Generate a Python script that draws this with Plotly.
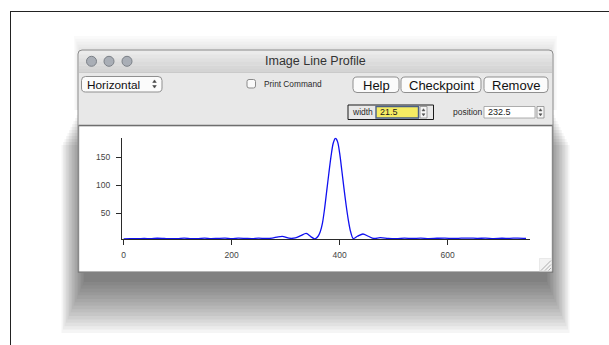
import plotly.graph_objects as go

# ---------------- data ----------------
profile_x = [0, 12, 25, 38, 50, 62, 75, 88, 100, 112, 125, 138, 150, 162, 175,
             188, 200, 212, 225, 238, 250, 262, 275, 286, 296, 306, 318, 328,
             338, 347, 354, 360, 364, 368, 372, 376, 380, 384, 388, 392, 396,
             400, 404, 408, 412, 416, 420, 425, 433, 443, 453, 463, 475, 490,
             505, 520, 535, 550, 565, 580, 595, 610, 625, 640, 655, 670, 685,
             700, 715, 730, 745]
profile_y = [4.5, 4.8, 4.6, 5.0, 4.7, 5.4, 5.0, 4.6, 4.8, 5.6, 4.7, 4.9, 5.5,
             4.8, 5.3, 5.6, 4.7, 5.5, 5.2, 4.8, 5.8, 5.0, 5.6, 8.0, 8.5, 5.5,
             6.0, 10.0, 14.0, 8.0, 4.5, 9.0, 17.0, 32.0, 58.0, 90.0, 122.0,
             152.0, 175.0, 184.0, 178.0, 157.0, 126.0, 94.0, 64.0, 38.0, 18.0,
             5.0, 9.0, 13.0, 9.0, 5.0, 6.5, 5.2, 4.8, 5.5, 5.0, 5.6, 4.9, 5.4,
             5.7, 5.0, 5.5, 5.8, 5.2, 5.6, 4.9, 5.4, 5.3, 5.7, 5.0]
x_ticks = [0, 200, 400, 600]
y_ticks = [50, 100, 150]
x_range = [-3.1, 752.4]
y_range = [4.1, 185]

window_title = "Image Line Profile"
popup_label = "Horizontal"
checkbox_label = "Print Command"
button_labels = ["Help", "Checkpoint", "Remove"]
width_value = "21.5"
position_value = "232.5"

# ---------------- helpers (pixel -> paper) ----------------
W, H = 609, 345
FONT = "Liberation Sans, Arial, sans-serif"


def px(x):
    return x / W


def py(y):
    return 1 - y / H


shapes = []
annotations = []


def rect(x0, y0, x1, y1, fill, line=None, lw=0):
    shapes.append(dict(type="rect", xref="paper", yref="paper",
                       x0=px(x0), x1=px(x1), y0=py(y1), y1=py(y0),
                       fillcolor=fill,
                       line=dict(color=line or "rgba(0,0,0,0)", width=lw),
                       layer="below"))


def path(d, fill=None, line=None, lw=1):
    shapes.append(dict(type="path", xref="paper", yref="paper", path=d,
                       fillcolor=fill or "rgba(0,0,0,0)",
                       line=dict(color=line or "rgba(0,0,0,0)", width=lw),
                       layer="below"))


def P(x, y):
    return f"{px(x):.6f},{py(y):.6f}"


def rrect(x0, y0, x1, y1, r, fill, line=None, lw=1, top_only=False):
    rb = 0 if top_only else r
    d = (f"M{P(x0 + r, y0)} L{P(x1 - r, y0)} Q{P(x1, y0)} {P(x1, y0 + r)} "
         f"L{P(x1, y1 - rb)} Q{P(x1, y1)} {P(x1 - rb, y1)} "
         f"L{P(x0 + rb, y1)} Q{P(x0, y1)} {P(x0, y1 - rb)} "
         f"L{P(x0, y0 + r)} Q{P(x0, y0)} {P(x0 + r, y0)} Z")
    path(d, fill, line, lw)


def line(x0, y0, x1, y1, color, lw=1):
    shapes.append(dict(type="line", xref="paper", yref="paper",
                       x0=px(x0), x1=px(x1), y0=py(y0), y1=py(y1),
                       line=dict(color=color, width=lw), layer="below"))


def circle(cx, cy, r, fill, line_c):
    shapes.append(dict(type="circle", xref="paper", yref="paper",
                       x0=px(cx - r), x1=px(cx + r), y0=py(cy + r), y1=py(cy - r),
                       fillcolor=fill, line=dict(color=line_c, width=1),
                       layer="below"))


def tri(x, y, w, h, up, color):
    if up:
        d = f"M{P(x - w / 2, y + h / 2)} L{P(x, y - h / 2)} L{P(x + w / 2, y + h / 2)} Z"
    else:
        d = f"M{P(x - w / 2, y - h / 2)} L{P(x, y + h / 2)} L{P(x + w / 2, y - h / 2)} Z"
    path(d, color, color, 0.5)


def text(x, y, s, size, color="#1e1e1e", anchor="left"):
    annotations.append(dict(text=s, xref="paper", yref="paper", x=px(x), y=py(y),
                            xanchor=anchor, yanchor="middle", showarrow=False,
                            font=dict(family=FONT, size=size, color=color),
                            borderpad=0))


# ---------------- outer frame ----------------
line(10, 11.5, 609, 11.5, "#222222", 1)
line(10.5, 11.5, 10.5, 345, "#222222", 1)

# ---------------- window shadow (stacked translucent layers) ----------------
for e in range(0, 32, 2):
    rect(84 - e * 0.75, 100 + e * 1.5, 547 + e * 0.75, 282 + e * 1.7,
         "rgba(0,0,0,0.04)")
for e in (2, 4, 6, 8, 10):
    rect(80 - e * 0.6, 50 - e * 1.4, 551 + e * 0.6, 110, "rgba(0,0,0,0.018)")

# ---------------- window ----------------
rrect(78, 50, 553, 272.5, 4, "#e8e8e8", "#8c8c8c", 1, top_only=True)
# title bar gradient
tb = ["#ebebeb", "#e5e5e5", "#e0e0e0", "#dbdbdb", "#d7d7d7", "#d4d4d4"]
for i, c in enumerate(tb):
    y0 = 51 + i * 3.6
    if i == 0:
        rrect(79, 51, 552, 55, 3, c, None, 0, top_only=True)
    else:
        rect(79, y0, 552, y0 + 3.7, c)
rect(79, 72.5, 552, 125, "#e8e8e8")
line(79, 72.5, 552, 72.5, "#c4c4c4", 0.8)

# traffic lights
for cx in (91.5, 109, 127):
    circle(cx, 61.3, 5, "#a9aeb6", "#7b8087")

text(315, 61.5, window_title, 12.5, "#333333", "center")

# popup button
rrect(81.5, 76.5, 162, 92, 4, "#fbfbfb", "#8f8f8f", 1)
text(85.5, 84.5, popup_label, 11.8, "#111111")
tri(154.5, 81.2, 3.6, 2.6, True, "#444444")
tri(154.5, 86.8, 3.6, 2.6, False, "#444444")

# checkbox
rrect(247, 79.5, 255.5, 88, 2, "#fafafa", "#8a8a8a", 1)
text(262.5, 84, checkbox_label, 8.3, "#2a2a2a")

# buttons
btns = [(353, 399), (401, 481), (484, 548)]
for (x0, x1), lab in zip(btns, button_labels):
    rrect(x0, 77, x1, 92.5, 4, "#fbfbfb", "#8f8f8f", 1)
    text((x0 + x1) / 2, 85.2, lab, 13, "#111111", "center")

# width control
rect(348, 105, 433.5, 119.5, "rgba(0,0,0,0)", "#1a1a1a", 1)
text(350.5, 112.3, "width", 8.5, "#2a2a2a")
rect(376, 106.5, 418.5, 118, "#f6ec63", "#4a5f85", 1.4)
text(379, 112.3, width_value, 9, "#1a1a1a")
rect(420, 106.5, 427, 118, "#f6f6f6", "#8a8a8a", 0.8)
tri(423.5, 109.8, 3, 2.2, True, "#555555")
tri(423.5, 114.8, 3, 2.2, False, "#555555")

# position control
text(452, 112.3, "position", 8.5, "#2a2a2a")
rect(484, 106.5, 535, 118, "#ffffff", "#9a9a9a", 0.8)
text(487, 112.3, position_value, 9, "#1a1a1a")
rect(537, 106.5, 544, 118, "#f6f6f6", "#8a8a8a", 0.8)
tri(540.5, 109.8, 3, 2.2, True, "#555555")
tri(540.5, 114.8, 3, 2.2, False, "#555555")

# plot panel
rect(79, 126.5, 552, 271.5, "#ffffff")
line(78.5, 125.5, 553, 125.5, "#6e6e6e", 1.6)
line(78.6, 125, 78.6, 272, "#8a8a8a", 1.2)
line(552.4, 125, 552.4, 272, "#8a8a8a", 1.2)
line(78, 272, 553, 272, "#777777", 1.2)

# resize grip
rect(539.5, 258.5, 551.5, 271, "#f3f3f3", "#dddddd", 0.6)
for k in (0, 4, 7.5):
    line(541 + k, 270.5, 551, 260.5 + k, "#9a9a9a", 0.8)

# ---------------- figure ----------------
fig = go.Figure()
fig.add_trace(go.Scatter(x=profile_x, y=profile_y, mode="lines",
                         line=dict(color="#1010f0", width=1.3, shape="spline",
                                   smoothing=0.8),
                         hoverinfo="skip", showlegend=False))

axis_common = dict(showline=True, linecolor="#2a2a2a", linewidth=1,
                   ticks="outside", ticklen=5, tickcolor="#2a2a2a", tickwidth=1,
                   showgrid=False, zeroline=False,
                   tickfont=dict(family=FONT, size=8.5, color="#444444"))

fig.update_layout(
    width=W, height=H, autosize=False,
    margin=dict(l=0, r=0, t=0, b=0, pad=0),
    paper_bgcolor="#ffffff", plot_bgcolor="rgba(0,0,0,0)",
    xaxis=dict(domain=[px(122), px(530)], range=x_range, tickvals=x_ticks,
               anchor="y", ticklabelstandoff=3, **axis_common),
    yaxis=dict(domain=[py(239), py(137.7)], range=y_range, tickvals=y_ticks,
               anchor="x", ticklabelstandoff=4, **axis_common),
    shapes=shapes, annotations=annotations,
)

fig.write_html("out.html", config={"displayModeBar": False})
